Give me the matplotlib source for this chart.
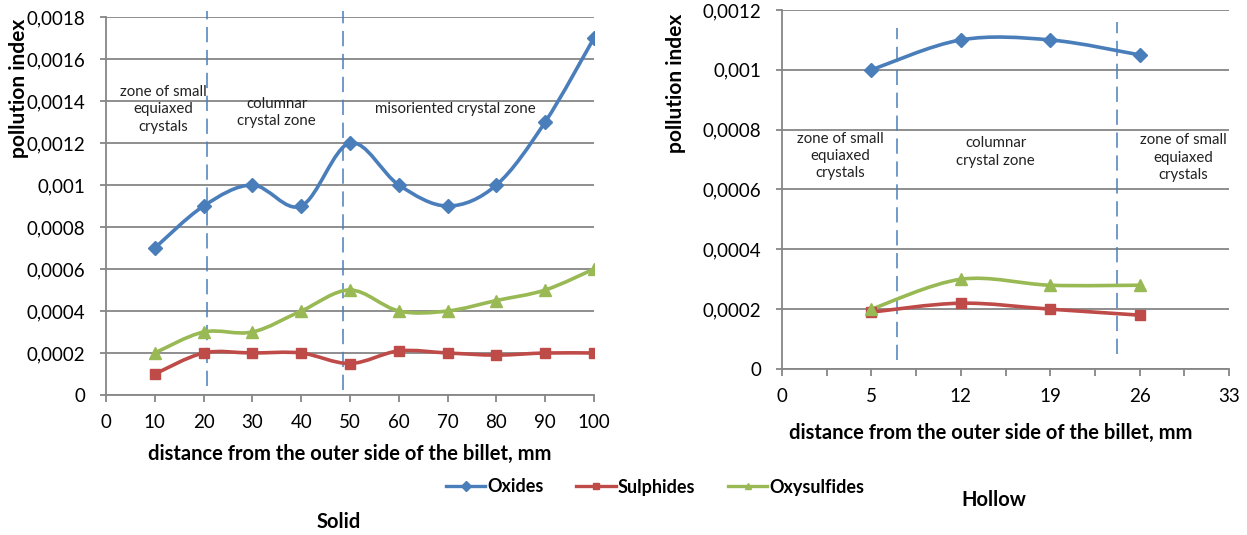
import numpy as np
import matplotlib
matplotlib.use('Agg')
import matplotlib.pyplot as plt
from matplotlib.path import Path
from matplotlib.patches import PathPatch
from matplotlib.lines import Line2D
from matplotlib.ticker import FuncFormatter, MultipleLocator

plt.rcParams['font.family'] = ['Lato', 'DejaVu Sans']

# solid billet
solid_x = [10, 20, 30, 40, 50, 60, 70, 80, 90, 100]
solid_oxides = [0.0007, 0.0009, 0.001, 0.0009, 0.0012, 0.001, 0.0009, 0.001, 0.0013, 0.0017]
solid_sulphides = [0.0001, 0.0002, 0.0002, 0.0002, 0.00015, 0.00021, 0.0002, 0.00019, 0.0002, 0.0002]
solid_oxysulfides = [0.0002, 0.0003, 0.0003, 0.0004, 0.0005, 0.0004, 0.0004, 0.00045, 0.0005, 0.0006]

# hollow billet (category-like axis)
hollow_ticks = [0, 5, 12, 19, 26, 33]
hollow_x = [5, 12, 19, 26]
hollow_oxides = [0.001, 0.0011, 0.0011, 0.00105]
hollow_sulphides = [0.00019, 0.00022, 0.0002, 0.00018]
hollow_oxysulfides = [0.0002, 0.0003, 0.00028, 0.00028]

names = ['Oxides', 'Sulphides', 'Oxysulfides']
colors = ['#4A7EBB', '#BE4B48', '#98B954']
markers = ['D', 's', '^']
msizes = [7, 7, 8.5]
grey = '#868686'


def smooth_path(xs, ys):
    # Excel-like smoothed line: cubic Bezier through every point
    p = np.column_stack([xs, ys]).astype(float)
    verts = [p[0]]
    codes = [Path.MOVETO]
    n = len(p)
    for i in range(n - 1):
        p0 = p[i - 1] if i > 0 else p[i]
        p3 = p[i + 2] if i + 2 < n else p[i + 1]
        c1 = p[i] + (p[i + 1] - p0) / 6
        c2 = p[i + 1] - (p3 - p[i]) / 6
        verts += [c1, c2, p[i + 1]]
        codes += [Path.CURVE4] * 3
    return Path(verts, codes)


def draw_series(ax, xs, series):
    for ys, c, m, ms in zip(series, colors, markers, msizes):
        ax.add_patch(PathPatch(smooth_path(xs, ys), fill=False, edgecolor=c,
                               lw=2.6, capstyle='round', joinstyle='round', zorder=3))
        ax.plot(xs, ys, ls='none', marker=m, ms=ms, color=c, zorder=4)


def style_axes(ax):
    for s in ['top', 'right']:
        ax.spines[s].set_visible(False)
    for s in ['left', 'bottom']:
        ax.spines[s].set_color(grey)
        ax.spines[s].set_linewidth(1.3)
    ax.yaxis.grid(True, color=grey, lw=1.3)
    ax.set_axisbelow(True)
    ax.tick_params(axis='y', length=4, width=1.3, color=grey, pad=11, labelsize=13.5)
    ax.tick_params(axis='x', which='both', length=5, width=1.3, color=grey, pad=9, labelsize=13.5)
    ax.yaxis.set_major_formatter(FuncFormatter(lambda v, _: ('%g' % round(v, 6)).replace('.', ',')))


fig = plt.figure(figsize=(12.47, 5.35), dpi=100)
W, H = 1247, 535

# ---- solid ----
ax1 = fig.add_axes([106 / W, 1 - 395 / H, 488 / W, 378 / H])
style_axes(ax1)
ax1.set_xlim(0, 100)
ax1.set_ylim(0, 0.0018)
ax1.set_xticks(range(0, 101, 10))
ax1.yaxis.set_major_locator(MultipleLocator(0.0002))
draw_series(ax1, solid_x, [solid_oxides, solid_sulphides, solid_oxysulfides])
for xv, y0 in [(20.7, 0.000045), (48.6, 0.000025)]:
    ax1.plot([xv, xv], [y0, 0.00183], color='#4A7EBB', lw=1.1,
             ls=(0, (10, 5)), clip_on=False, zorder=2)
ax1.set_xlabel('distance from the outer side of the billet, mm', fontsize=14.5,
               fontweight='bold', labelpad=9)
fig.text(19 / W, 1 - 88 / H, 'pollution index', rotation=90, fontsize=15,
         fontweight='bold', ha='center', va='center')
ann = dict(fontsize=10.8, ha='center', va='center', linespacing=1.3, color='#222222')
ax1.text(11.8, 0.00136, 'zone of small\nequiaxed\ncrystals', **ann)
ax1.text(35, 0.001344, 'columnar\ncrystal zone', **ann)
ax1.text(71.5, 0.001364, 'misoriented crystal zone', **ann)

# ---- hollow ----
ax2 = fig.add_axes([782 / W, 1 - 369 / H, 447 / W, 359 / H])
style_axes(ax2)
ax2.set_xlim(0, len(hollow_ticks) - 1)
ax2.set_ylim(0, 0.0012)
ax2.set_xticks(range(len(hollow_ticks)))
ax2.set_xticklabels([str(t) for t in hollow_ticks])
ax2.xaxis.set_minor_locator(MultipleLocator(0.5))
ax2.yaxis.set_major_locator(MultipleLocator(0.0002))
hx = [hollow_ticks.index(v) for v in hollow_x]
draw_series(ax2, hx, [hollow_oxides, hollow_sulphides, hollow_oxysulfides])
for xv, y0, y1 in [(1.29, 0.00003, 0.00114), (3.75, 0.00005, 0.00116)]:
    ax2.plot([xv, xv], [y0, y1], color='#4A7EBB', lw=1.1,
             ls=(0, (10, 5)), clip_on=False, zorder=2)
ax2.set_xlabel('distance from the outer side of the billet, mm', fontsize=14.5,
               fontweight='bold')
ax2.xaxis.set_label_coords((991 - 782) / 447, (369 - 423) / 359)
fig.text(676 / W, 1 - 83 / H, 'pollution index', rotation=90, fontsize=15,
         fontweight='bold', ha='center', va='center')
ax2.text(0.65, 0.000712, 'zone of small\nequiaxed\ncrystals', **ann)
ax2.text(2.39, 0.000725, 'columnar\ncrystal zone', **ann)
ax2.text(4.49, 0.000706, 'zone of small\nequiaxed\ncrystals', **ann)

# ---- legend and titles ----
handles = [Line2D([], [], color=c, marker=m, ms=5, lw=2.4) for c, m in zip(colors, markers)]
fig.legend(handles, names, loc='center', bbox_to_anchor=(655 / W, 1 - 487 / H), ncol=3,
           frameon=False, handlelength=2.2, handletextpad=0.1,
           columnspacing=1.8, prop={'weight': 'bold', 'size': 13})
fig.text(339 / W, 1 - 522 / H, 'Solid', fontsize=14.5, fontweight='bold', ha='center', va='center')
fig.text(994 / W, 1 - 500 / H, 'Hollow', fontsize=14.5, fontweight='bold', ha='center', va='center')

fig.savefig('out.png', dpi=100)
